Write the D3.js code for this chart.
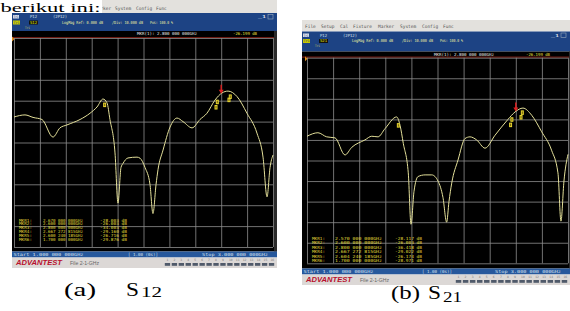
<!DOCTYPE html>
<html><head><meta charset="utf-8">
<script src="https://cdn.jsdelivr.net/npm/d3@7"></script>
<style>html,body{margin:0;padding:0;background:#fff;overflow:hidden}</style>
</head><body><svg id="c" width="570" height="311"></svg>
<script>
// ---------- data ----------
const freqA = [1.000,1.085,1.147,1.216,1.301,1.355,1.409,1.510,1.587,1.641,1.687,1.718,1.741,1.780,1.803,1.826,1.842,1.880,1.950,1.973,2.012,2.050,2.073,2.097,2.112,2.151,2.205,2.259,2.305,2.375,2.436,2.490,2.552,2.606,2.653,2.722,2.799,2.876,2.923,2.954,2.977,3.000];
const s12   = [-37.8,-36.8,-38.0,-39.0,-47.4,-43.0,-41.6,-39.0,-36.0,-33.0,-29.2,-31.0,-39.0,-55.0,-79.0,-62.0,-60.0,-57.4,-57.0,-57.5,-62.0,-70.0,-84.0,-70.0,-63.0,-53.6,-42.6,-38.3,-40.0,-43.0,-39.0,-36.0,-29.7,-26.3,-25.4,-28.0,-36.0,-45.5,-57.0,-76.0,-62.0,-56.0];
const freqB = [1.000,1.084,1.151,1.215,1.291,1.343,1.444,1.496,1.544,1.598,1.687,1.713,1.738,1.776,1.797,1.820,1.851,1.905,1.956,2.004,2.042,2.070,2.088,2.109,2.157,2.211,2.249,2.300,2.364,2.441,2.540,2.594,2.655,2.722,2.798,2.874,2.923,2.946,2.969,3.000];
const s21   = [-38.2,-36.5,-38.5,-39.0,-47.3,-43.6,-40.0,-38.2,-38.5,-34.5,-28.8,-32.9,-41.7,-56.0,-81.0,-65.0,-57.8,-57.0,-57.0,-60.0,-68.0,-80.0,-70.0,-61.0,-49.8,-39.3,-38.5,-40.0,-44.0,-37.7,-30.0,-26.4,-24.5,-28.0,-36.0,-45.0,-56.0,-79.5,-60.0,-47.0];
const xTicks = [1.0,1.2,1.4,1.6,1.8,2.0,2.2,2.4,2.6,2.8,3.0];
const yTicks = [0,-10,-20,-30,-40,-50,-60,-70,-80,-90,-100];
const activeMarkerFreqA = 2.6;
const activeMarkerFreqB = 2.6;
const markerFreqsA = [1.70, 2.56, 2.57, 2.66, 2.67];
const markerFreqsB = [1.70, 2.56, 2.57, 2.64, 2.65];
const mkrNames = ["MKR1:","MKR2:","MKR3:","MKR4:","MKR5:","MKR6:"];
const mkrFreqA = ["2.670 000 000GHz","2.600 000 000GHz","2.800 000 000GHz","2.667 272 815GHz","2.600 240 185GHz","1.700 000 000GHz"];
const mkrValA  = ["-28.003 dB","-26.003 dB","-34.003 dB","-29.160 dB","-26.716 dB","-29.876 dB"];
const mkrFreqB = ["2.570 000 000GHz","2.600 000 000GHz","2.800 000 000GHz","2.667 272 815GHz","2.604 240 185GHz","1.700 000 000GHz"];
const mkrValB  = ["-28.117 dB","-26.003 dB","-36.418 dB","-29.022 dB","-26.174 dB","-28.971 dB"];
const menuItems = ["File","Setup","Cal","Fixture","Marker","System","Config","Func"];
const tabLabels = ["1","2","3","4","5","6","7","8","9","10","11","12","13","14","15","16"];

// ---------- drawing ----------
const svg = d3.select("#c");
const MONO = "'DejaVu Sans Mono', monospace";
function txt(g, x, y, s, o = {}) {
  const t = g.append("text").attr("x", x).attr("y", y).text(s)
    .attr("font-family", o.family || MONO).attr("font-size", o.size || 4.2)
    .attr("fill", o.fill || "#dde3ee");
  if (o.len) t.attr("textLength", o.len).attr("lengthAdjust", "spacingAndGlyphs");
  if (o.weight) t.attr("font-weight", o.weight);
  if (o.style) t.attr("font-style", o.style);
  return t;
}
function interp(freq, vals, f) {
  const i = Math.max(1, Math.min(freq.length - 1, d3.bisectLeft(freq, f)));
  const t = (f - freq[i-1]) / (freq[i] - freq[i-1]);
  return vals[i-1] + t * (vals[i] - vals[i-1]);
}

function panel(c) {
  const g = svg.append("g");
  const x = d3.scaleLinear().domain([1, 3]).range([c.gl, c.gr]);
  const y = d3.scaleLinear().domain([0, -100]).range([c.gt, c.gb]);
  // menu bar
  g.append("rect").attr("x", c.L).attr("y", c.menuY).attr("width", c.R - c.L).attr("height", c.headY - c.menuY).attr("fill", "#e3e1dd");
  menuItems.forEach((m, i) => { if (c.menuX[i] != null) txt(g, c.menuX[i], c.headY - 3.5, m, {fill: "#555", size: 4.6, len: m.length * 2.7}); });
  // blue header
  g.append("rect").attr("x", c.L).attr("y", c.headY).attr("width", c.R - c.L).attr("height", c.mkY - c.headY).attr("fill", "#1d4384");
  const hy = c.headY;
  g.append("rect").attr("x", c.L + 1).attr("y", hy + 2).attr("width", 6).attr("height", 3.5).attr("fill", "#d8dde8");
  txt(g, c.L + 1.5, hy + 5, "Tr1", {fill: "#1d4384", size: 3.2, len: 5});
  txt(g, c.L + 18, hy + 5, "P12", {len: 7});
  txt(g, c.L + 41, hy + 5, c.sp, {len: 14});
  g.append("rect").attr("x", c.L + 1).attr("y", hy + 7.5).attr("width", 7).attr("height", 4).attr("fill", "#c8c800");
  txt(g, c.L + 1.5, hy + 10.8, "Tr1", {fill: "#1d4384", size: 3.2, len: 6});
  g.append("rect").attr("x", c.L + 17).attr("y", hy + 7.5).attr("width", 9).attr("height", 4).attr("fill", "#111");
  txt(g, c.L + 18, hy + 10.8, c.sname, {fill: "#f0f000", len: 7});
  txt(g, c.L + 50, hy + 10.8, "LogMag Ref: 0.000 dB", {fill: "#f2f2a0", len: 41});
  txt(g, c.L + 100, hy + 10.8, "/Div: 10.000 dB", {fill: "#f2f2a0", len: 31});
  txt(g, c.L + 138, hy + 10.8, "Pos: 100.0 %", {fill: "#f2f2a0", len: 23});
  txt(g, c.L + 13, hy + 15.5, "Tr1", {fill: "#c8c860", size: 3.2, len: 5});
  txt(g, c.R - 19, hy + 5, "_1", {fill: "#fff", len: 8});
  g.append("rect").attr("x", c.R - 9).attr("y", hy + 1.5).attr("width", 5).attr("height", 4.5).attr("fill", "none").attr("stroke", "#9ab").attr("stroke-width", 0.6);
  // marker readout row + plot area
  g.append("rect").attr("x", c.L).attr("y", c.mkY).attr("width", c.R - c.L).attr("height", c.statY - c.mkY).attr("fill", "#000");
  txt(g, c.L + c.mkOff, c.mkY + 4.4, "MKR(1):  2.800 000 000GHz", {fill: "#eaeaea", len: 60});
  txt(g, c.R - 44, c.mkY + 4.4, "-26.199 dB", {fill: "#e8e040", len: 24});
  g.append("line").attr("x1", c.L).attr("x2", c.R).attr("y1", c.gt - 0.5).attr("y2", c.gt - 0.5).attr("stroke", "#6e1a12").attr("stroke-width", 1.2);
  g.append("rect").attr("x", c.gr + 1).attr("y", c.mkY).attr("width", c.R - c.gr - 1).attr("height", c.statY - c.mkY).attr("fill", "#2a2a2a");
  // grid
  const gx = g.append("g").attr("transform", `translate(0,${c.gb})`)
    .call(d3.axisBottom(x).tickValues(xTicks).tickSize(-(c.gb - c.gt)).tickFormat(""));
  const gy = g.append("g").attr("transform", `translate(${c.gl},0)`)
    .call(d3.axisLeft(y).tickValues(yTicks).tickSize(-(c.gr - c.gl)).tickFormat(""));
  [gx, gy].forEach(a => { a.select(".domain").remove(); a.selectAll("line").attr("stroke", "#8e8e8e").attr("stroke-width", 0.8); });
  // ref marker on left
  g.append("path").attr("d", `M${c.gl - 2},${c.gt - 1.5}L${c.gl + 0.5},${c.gt + 1}L${c.gl - 2},${c.gt + 3.5}Z`).attr("fill", "#e09020");
  // trace
  const line = d3.line().x(d => x(d[0])).y(d => y(d[1])).curve(d3.curveMonotoneX);
  g.append("path").datum(c.freq.map((f, i) => [f, c.vals[i]])).attr("d", line)
    .attr("fill", "none").attr("stroke", "#e4e09a").attr("stroke-width", 1);
  // small yellow markers
  c.mf.forEach((f, i) => {
    const px = x(f), py = y(interp(c.freq, c.vals, f)) + (i % 2 ? 6 : 2);
    g.append("rect").attr("x", px - 1.5).attr("y", py).attr("width", 3).attr("height", 4.5).attr("fill", "#e8d830");
    g.append("rect").attr("x", px - 0.6).attr("y", py + 1).attr("width", 1.2).attr("height", 2.5).attr("fill", "#806a10");
  });
  // active red marker
  const ax = x(c.af), ay = y(interp(c.freq, c.vals, c.af));
  g.append("line").attr("x1", ax).attr("x2", ax).attr("y1", ay - 9).attr("y2", ay - 3).attr("stroke", "#e02020").attr("stroke-width", 1.4);
  g.append("path").attr("d", `M${ax - 2.5},${ay - 4}L${ax + 2.5},${ay - 4}L${ax},${ay}Z`).attr("fill", "#e02020");
  // marker table
  mkrNames.forEach((n, i) => {
    const ty = c.tabY + i * c.tabDy;
    txt(g, c.gl + 5, ty, n, {fill: "#e0dc3a", len: 13});
    txt(g, c.gl + c.tfx, ty, c.tf[i], {fill: "#e0dc3a", len: c.tfl});
    txt(g, c.gl + c.tvx, ty, c.tv[i], {fill: "#e0dc3a", len: 27});
  });
  // status bar
  g.append("rect").attr("x", c.L).attr("y", c.statY).attr("width", c.R - c.L).attr("height", c.advY - c.statY).attr("fill", "#27589c");
  txt(g, c.L + 1.5, c.statY + 4.6, "Start  1.000 000 000GHz", {fill: "#d6e0f0", len: 70});
  txt(g, c.L + c.swx, c.statY + 4.6, "[  1.00 (0s)]", {fill: "#d6e0f0", len: 30});
  txt(g, c.L + c.stx, c.statY + 4.6, "Stop  3.000 000 000GHz", {fill: "#d6e0f0", len: 66});
  // ADVANTEST bar
  g.append("rect").attr("x", c.L).attr("y", c.advY).attr("width", c.R - c.L).attr("height", c.endY - c.advY).attr("fill", "#dcd8d6");
  txt(g, c.L + 4, c.advY + 7, "ADVANTEST", {family: "'Liberation Sans', Arial", size: 6.5, weight: "bold", style: "italic", fill: "#b8102c", len: 46});
  txt(g, c.L + 58, c.advY + 7, "File 2-1-GHz", {family: "'Liberation Sans', Arial", size: 4.6, fill: "#666", len: 29});
  const tabW = (c.R - 2 - c.tabX0) / tabLabels.length;
  tabLabels.forEach((t, i) => {
    const tx = c.tabX0 + i * tabW;
    txt(g, tx + tabW / 2 - 1, c.advY + 3.2, t, {fill: "#777", size: 3});
    g.append("rect").attr("x", tx + 0.8).attr("y", c.advY + 5.5).attr("width", tabW - 1.6).attr("height", 2.8).attr("fill", "#505a6a");
  });
}

panel({L: 12, R: 277, menuY: 0, headY: 13, mkY: 31, gl: 14, gr: 273, gt: 38, gb: 247, statY: 251.5, advY: 257.5, endY: 268,
  menuX: [null, null, null, null, 95, 115, 136, 156], sp: "(2P12)", sname: "S12", mkOff: 125,
  freq: freqA, vals: s12, mf: markerFreqsA, af: activeMarkerFreqA,
  tabY: 221.5, tabDy: 3.9, tf: mkrFreqA, tv: mkrValA, tfx: 29, tfl: 40, tvx: 86,
  swx: 116, stx: 190, tabX0: 164});
panel({L: 302, R: 570, menuY: 20, headY: 31.5, mkY: 51.5, gl: 307, gr: 568, gt: 57.7, gb: 263.3, statY: 268.5, advY: 274.5, endY: 285,
  menuX: [305, 321, 340, 353, 378, 400, 422, 443], sp: "(2P12)", sname: "S21", mkOff: 132,
  freq: freqB, vals: s21, mf: markerFreqsB, af: activeMarkerFreqB,
  tabY: 240, tabDy: 4.45, tf: mkrFreqB, tv: mkrValB, tfx: 28, tfl: 47, tvx: 88,
  swx: 120, stx: 193, tabX0: 455});

// document text overlapping the top-left
svg.append("rect").attr("x", 0).attr("y", 0).attr("width", 102).attr("height", 13).attr("fill", "#fff");
txt(svg, 0.5, 12.2, "berikut ini:", {family: "'Liberation Serif', 'Times New Roman', serif", size: 13.5, fill: "#000", len: 100});

// captions
const SERIF = "'Liberation Serif', 'Times New Roman', serif";
txt(svg, 64, 296, "(a)", {family: SERIF, size: 19, fill: "#000", len: 32});
txt(svg, 126, 296, "S", {family: SERIF, size: 19, fill: "#000", len: 13});
txt(svg, 141, 297, "12", {family: SERIF, size: 14, fill: "#000", len: 21});
txt(svg, 391, 298.5, "(b)", {family: SERIF, size: 19, fill: "#000", len: 29});
txt(svg, 428, 298.5, "S", {family: SERIF, size: 19, fill: "#000", len: 13});
txt(svg, 443, 302, "21", {family: SERIF, size: 14, fill: "#000", len: 19});
</script></body></html>
